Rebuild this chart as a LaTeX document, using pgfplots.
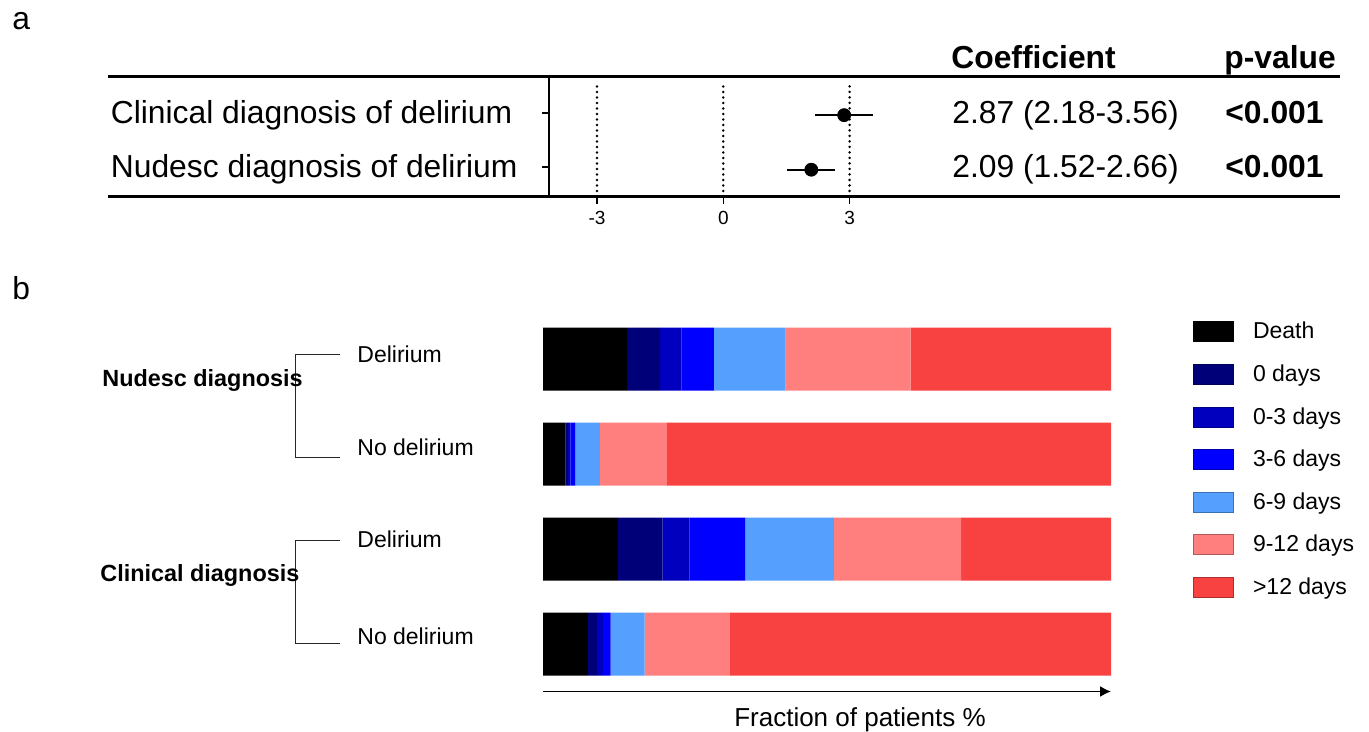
\documentclass[border=0pt]{standalone}
\usepackage{fontspec}
\setmainfont{Liberation Sans}
\usepackage{pgfplots}
\usepackage{pgfplotstable}
\pgfplotsset{compat=1.18}
\usetikzlibrary{arrows.meta}

% stay colours
\definecolor{cDeath}{RGB}{0,0,0}
\definecolor{cZero}{RGB}{0,0,120}
\definecolor{cZeroThree}{RGB}{0,0,190}
\definecolor{cThreeSix}{RGB}{0,0,255}
\definecolor{cSixNine}{RGB}{85,160,255}
\definecolor{cNineTwelve}{RGB}{255,127,127}
\definecolor{cTwelve}{RGB}{248,65,65}

\newcommand{\fbig}{\fontsize{15.9}{18}\selectfont}
\newcommand{\fmid}{\fontsize{11.5}{13}\selectfont}
\newcommand{\fgrp}{\fontsize{11.7}{14}\selectfont}
\newcommand{\fax}{\fontsize{13}{15}\selectfont}
\newcommand{\ftick}{\fontsize{9.5}{11}\selectfont}

% legend swatch: filled box with a thin darker outline
\pgfplotsset{legsq/.style={
  legend image code/.code={
    \fill[fill=#1] (0pt,-4.2pt) rectangle (20pt,5.8pt);
    \draw[draw=#1!70!black, fill=none, line width=0.3pt] (0pt,-4.2pt) rectangle (20pt,5.8pt);
  }}}

% fraction of patients (%) per length-of-stay group
\pgfplotstableread{
y death d0 d03 d36 d69 d912 d12
4 14.8 5.8 3.8 5.7 12.6 22.0 35.3
3 4.0  0.4 0.4 0.9 4.3  11.8 78.2
2 13.2 7.8 4.8 9.8 15.6 22.4 26.4
1 7.9  1.6 1.1 1.3 6.0  14.9 67.2
}\fracdata

\begin{document}
\begin{tikzpicture}[x=0.5pt,y=-0.5pt]
\path[use as bounding box] (0,0) rectangle (1369,732);
\coordinate (forestSW) at (549,196.7);
\coordinate (barsSW) at (543,691.5);

% ---------------- panel a: coefficients ----------------
\node[anchor=base west, inner sep=0pt, font=\fbig] at (12,30) {a};
\draw[line width=1.65pt] (108,76.7) -- (1340,76.7);
\draw[line width=1.65pt] (108,196.7) -- (1340,196.7);

\begin{axis}[
  at={(forestSW)}, anchor=south west,
  scale only axis, width=192.4pt, height=60pt,
  xmin=-4.14, xmax=5.0, ymin=0.45, ymax=2.672,
  axis x line*=bottom, axis y line*=left,
  x axis line style={draw=none},
  y axis line style={line width=0.7pt, -},
  xtick={-3,0,3}, ytick={1,2}, yticklabels={},
  tick align=outside, major tick length=3.5pt,
  tick style={black, line width=0.7pt},
  tick label style={font=\ftick},
  /pgf/number format/assume math mode=true,
  clip=false,
]
\addplot[black, line width=1.4pt, dash pattern=on 0pt off 2.75pt, line cap=round]
  coordinates {(-3,0.556) (-3,2.574)};
\addplot[black, line width=1.4pt, dash pattern=on 0pt off 2.75pt, line cap=round]
  coordinates {(0,0.556) (0,2.574)};
\addplot[black, line width=1.4pt, dash pattern=on 0pt off 2.75pt, line cap=round]
  coordinates {(3,0.556) (3,2.574)};
\addplot[black, only marks, mark=*, mark size=3.25pt,
  error bars/.cd, x dir=both, x explicit,
  error bar style={line width=1.1pt, black}, error mark=none]
  coordinates {(2.87,1.96) +- (0.69,0) (2.09,0.95) +- (0.57,0)};
\end{axis}

\node[anchor=base west, inner sep=0pt, font=\fbig] at (110.5,123.3) {Clinical diagnosis of delirium};
\node[anchor=base west, inner sep=0pt, font=\fbig] at (110.5,177.3) {Nudesc diagnosis of delirium};
\node[anchor=base west, inner sep=0pt, font=\fbig\bfseries] at (951,69) {Coefficient};
\node[anchor=base west, inner sep=0pt, font=\fbig\bfseries] at (1224,69) {p-value};
\node[anchor=base west, inner sep=0pt, font=\fbig] at (952,123.3) {2.87 (2.18-3.56)};
\node[anchor=base west, inner sep=0pt, font=\fbig] at (952,177.3) {2.09 (1.52-2.66)};
\node[anchor=base west, inner sep=0pt, font=\fbig\bfseries] at (1225,123.3) {<0.001};
\node[anchor=base west, inner sep=0pt, font=\fbig\bfseries] at (1225,177.3) {<0.001};

% ---------------- panel b: length of stay ----------------
\node[anchor=base west, inner sep=0pt, font=\fbig] at (12,300) {b};

\begin{axis}[
  at={(barsSW)}, anchor=south west,
  scale only axis, width=284pt, height=190pt,
  xmin=0, xmax=100, ymin=0.5, ymax=4.5,
  xbar stacked, bar width=31.5pt,
  axis x line*=bottom, axis y line=none,
  x axis line style={line width=0.8pt, -{Latex[length=5.5pt,width=5.5pt]}},
  xtick=\empty, ytick=\empty,
  legend cell align=left,
  legend style={
    at={(rel axis cs:1.1444,0.975)}, anchor=north west,
    draw=none, fill=none, inner sep=0pt,
    row sep=10.1pt, column sep=9.5pt,
    nodes={inner sep=0pt, text height=8pt, text depth=2.5pt},
    font=\fmid,
  },
]
\addplot[fill=cDeath, draw=none, legsq=cDeath] table[x=death, y=y] \fracdata;
\addplot[fill=cZero, draw=none, legsq=cZero] table[x=d0, y=y] \fracdata;
\addplot[fill=cZeroThree, draw=none, legsq=cZeroThree] table[x=d03, y=y] \fracdata;
\addplot[fill=cThreeSix, draw=none, legsq=cThreeSix] table[x=d36, y=y] \fracdata;
\addplot[fill=cSixNine, draw=none, legsq=cSixNine] table[x=d69, y=y] \fracdata;
\addplot[fill=cNineTwelve, draw=none, legsq=cNineTwelve] table[x=d912, y=y] \fracdata;
\addplot[fill=cTwelve, draw=none, legsq=cTwelve] table[x=d12, y=y] \fracdata;
\legend{Death, 0 days, 0-3 days, 3-6 days, 6-9 days, 9-12 days, >12 days}
\end{axis}

% group brackets
\draw[black!85, line width=0.55pt] (339.7,354.3) -- (295.3,354.3) -- (295.3,457.3) -- (339.7,457.3);
\draw[black!85, line width=0.55pt] (339.7,540.7) -- (295.3,540.7) -- (295.3,643.3) -- (339.7,643.3);

\node[anchor=base west, inner sep=0pt, font=\fmid] at (357,362.7) {Delirium};
\node[anchor=base west, inner sep=0pt, font=\fmid] at (357,455) {No delirium};
\node[anchor=base west, inner sep=0pt, font=\fmid] at (357,547.7) {Delirium};
\node[anchor=base west, inner sep=0pt, font=\fmid] at (357,644.3) {No delirium};
\node[anchor=base west, inner sep=0pt, font=\fgrp\bfseries] at (102,386.7) {Nudesc diagnosis};
\node[anchor=base west, inner sep=0pt, font=\fgrp\bfseries] at (100,581.7) {Clinical diagnosis};

\node[anchor=base, inner sep=0pt, font=\fax] at (860,726) {Fraction of patients \%};
\end{tikzpicture}
\end{document}
